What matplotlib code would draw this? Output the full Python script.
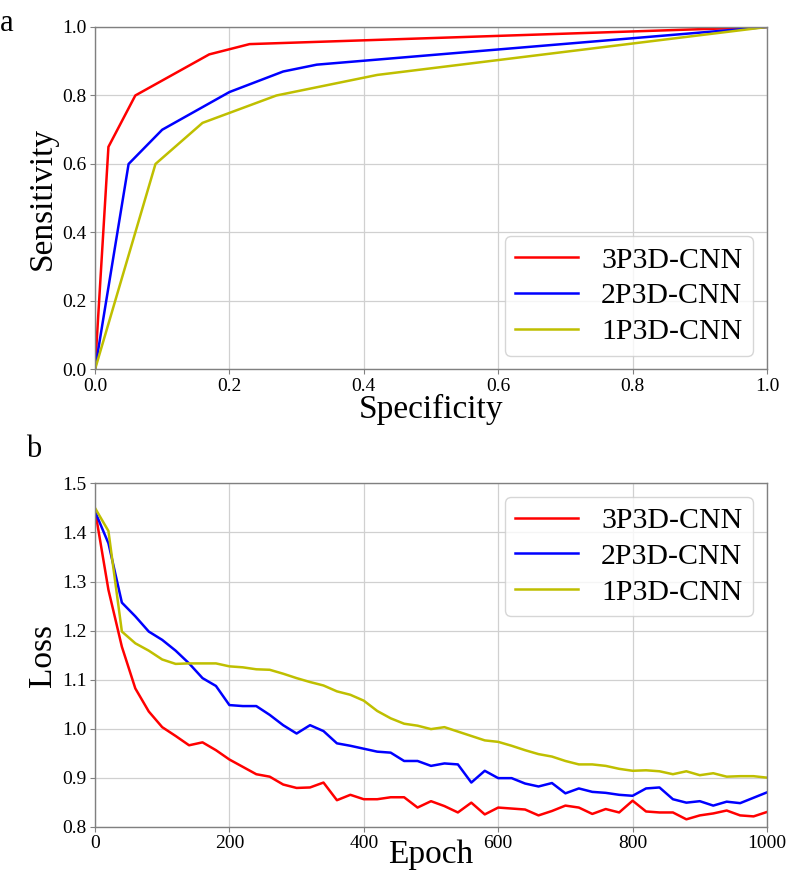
import matplotlib
matplotlib.use("Agg")
import matplotlib.pyplot as plt

# ---- ROC data ----
roc_labels = ["3P3D-CNN", "2P3D-CNN", "1P3D-CNN"]
spec_3p = [0.0, 0.02, 0.06, 0.17, 0.23, 1.0]
sens_3p = [0.0, 0.65, 0.80, 0.92, 0.95, 1.0]
spec_2p = [0.0, 0.05, 0.10, 0.20, 0.28, 0.33, 1.0]
sens_2p = [0.0, 0.60, 0.70, 0.81, 0.87, 0.89, 1.0]
spec_1p = [0.0, 0.09, 0.16, 0.27, 0.42, 1.0]
sens_1p = [0.0, 0.60, 0.72, 0.80, 0.86, 1.0]

# ---- Loss data (every 20 epochs) ----
epochs = list(range(0, 1001, 20))
loss_3p = [1.446, 1.283, 1.167, 1.082, 1.035, 1.003, 0.985, 0.966, 0.972, 0.956,
           0.937, 0.922, 0.907, 0.902, 0.886, 0.879, 0.880, 0.890, 0.854, 0.865,
           0.856, 0.856, 0.860, 0.860, 0.839, 0.852, 0.842, 0.829, 0.849, 0.825,
           0.839, 0.837, 0.835, 0.823, 0.832, 0.843, 0.839, 0.826, 0.836, 0.829,
           0.853, 0.831, 0.829, 0.829, 0.815, 0.823, 0.827, 0.833, 0.823, 0.821,
           0.830]
loss_2p = [1.443, 1.378, 1.257, 1.229, 1.198, 1.181, 1.159, 1.133, 1.103, 1.087,
           1.048, 1.046, 1.046, 1.028, 1.007, 0.990, 1.007, 0.995, 0.970, 0.965,
           0.959, 0.953, 0.951, 0.934, 0.934, 0.924, 0.929, 0.927, 0.890, 0.914,
           0.899, 0.899, 0.888, 0.882, 0.889, 0.868, 0.878, 0.871, 0.869, 0.865,
           0.863, 0.878, 0.880, 0.856, 0.849, 0.852, 0.843, 0.851, 0.848, 0.859,
           0.870]
loss_1p = [1.450, 1.403, 1.198, 1.174, 1.159, 1.141, 1.132, 1.133, 1.133, 1.133,
           1.127, 1.125, 1.121, 1.120, 1.112, 1.103, 1.095, 1.088, 1.076, 1.069,
           1.057, 1.036, 1.021, 1.010, 1.006, 0.999, 1.003, 0.994, 0.985, 0.976,
           0.973, 0.965, 0.956, 0.948, 0.943, 0.934, 0.927, 0.927, 0.924, 0.918,
           0.914, 0.915, 0.913, 0.907, 0.913, 0.905, 0.909, 0.902, 0.903, 0.903,
           0.900]

colors = ["#ff0000", "#0000ff", "#bfbf00"]
plt.rcParams["font.family"] = ["Liberation Serif", "DejaVu Serif"]

fig = plt.figure(figsize=(7.87, 8.76), dpi=100)
ax1 = fig.add_axes([0.1207, 0.5782, 0.8539, 0.3910])
ax2 = fig.add_axes([0.1207, 0.0563, 0.8539, 0.3918])

lw = 1.8
for ax in (ax1, ax2):
    for s in ax.spines.values():
        s.set_color("#808080")
        s.set_linewidth(1.0)
    ax.tick_params(labelsize=14, colors="#808080", labelcolor="black", length=3.5, pad=2.5)
    ax.grid(True, color="#d0d0d0", linewidth=0.9)
    ax.set_axisbelow(True)

leg_kw = dict(fontsize=21.5, borderaxespad=0.0, handlelength=2.1, handletextpad=0.78,
              labelspacing=0.3, borderpad=0.35)

ax1.plot(spec_3p, sens_3p, color=colors[0], lw=lw, label=roc_labels[0])
ax1.plot(spec_2p, sens_2p, color=colors[1], lw=lw, label=roc_labels[1])
ax1.plot(spec_1p, sens_1p, color=colors[2], lw=lw, label=roc_labels[2])
ax1.set_xlim(0, 1)
ax1.set_ylim(0, 1)
ax1.set_xticks([0, 0.2, 0.4, 0.6, 0.8, 1.0])
ax1.set_yticks([0, 0.2, 0.4, 0.6, 0.8, 1.0])
ax1.set_xlabel("Specificity", fontsize=24, labelpad=-1)
ax1.set_ylabel("Sensitivity", fontsize=24, labelpad=3)
ax1.legend(loc="lower right", bbox_to_anchor=(0.9787, 0.040), **leg_kw)

ax2.plot(epochs, loss_3p, color=colors[0], lw=lw, label=roc_labels[0])
ax2.plot(epochs, loss_2p, color=colors[1], lw=lw, label=roc_labels[1])
ax2.plot(epochs, loss_1p, color=colors[2], lw=lw, label=roc_labels[2])
ax2.set_xlim(0, 1000)
ax2.set_ylim(0.8, 1.5)
ax2.set_xticks([0, 200, 400, 600, 800, 1000])
ax2.set_yticks([0.8, 0.9, 1.0, 1.1, 1.2, 1.3, 1.4, 1.5])
ax2.set_xlabel("Epoch", fontsize=24, labelpad=-9)
ax2.set_ylabel("Loss", fontsize=24, labelpad=3)
ax2.legend(loc="upper right", bbox_to_anchor=(0.9787, 0.9615), **leg_kw)

fig.text(0.0, 0.99, "a", fontsize=22, va="top", ha="left")
fig.text(0.033, 0.503, "b", fontsize=22, va="top", ha="left")

fig.savefig("out.png", dpi=100)
